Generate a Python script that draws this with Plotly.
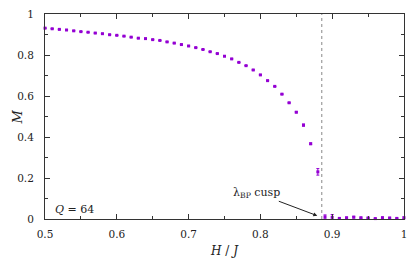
import plotly.graph_objects as go

# Data
H = [0.50, 0.51, 0.52, 0.53, 0.54, 0.55, 0.56, 0.57, 0.58, 0.59,
     0.60, 0.61, 0.62, 0.63, 0.64, 0.65, 0.66, 0.67, 0.68, 0.69,
     0.70, 0.71, 0.72, 0.73, 0.74, 0.75, 0.76, 0.77, 0.78, 0.79,
     0.80, 0.81, 0.82, 0.83, 0.84, 0.85, 0.86, 0.87, 0.88, 0.89,
     0.90, 0.91, 0.92, 0.93, 0.94, 0.95, 0.96, 0.97, 0.98, 0.99, 1.00]
M = [0.931, 0.928, 0.925, 0.922, 0.918, 0.914, 0.911, 0.907, 0.904, 0.899,
     0.896, 0.892, 0.887, 0.882, 0.880, 0.875, 0.871, 0.864, 0.858, 0.851,
     0.844, 0.836, 0.827, 0.816, 0.807, 0.794, 0.781, 0.764, 0.748, 0.727,
     0.703, 0.675, 0.647, 0.609, 0.567, 0.521, 0.458, 0.367, 0.230, 0.010,
     0.008, 0.003, 0.006, 0.009, 0.006, 0.005, 0.002, 0.006, 0.005, 0.003, 0.006]
M_err = [0.001] * 33 + [0.002, 0.002, 0.003, 0.005, 0.004, 0.016, 0.010,
                        0.014, 0.002, 0.003, 0.004, 0.003, 0.003, 0.002, 0.004, 0.003, 0.002, 0.004]
cusp_H = 0.8855
x_ticks = [0.5, 0.6, 0.7, 0.8, 0.9, 1.0]
x_tick_labels = ["0.5", "0.6", "0.7", "0.8", "0.9", "1"]
y_ticks = [0, 0.2, 0.4, 0.6, 0.8, 1.0]
y_tick_labels = ["0", "0.2", "0.4", "0.6", "0.8", "1"]

purple = "#9400D3"
FONT = "DejaVu Serif"

fig = go.Figure()
fig.add_trace(go.Scatter(
    x=H, y=M, mode="markers",
    marker=dict(symbol="square", size=3, color=purple),
    error_y=dict(type="data", array=M_err, color=purple, thickness=1, width=1.5),
    cliponaxis=False, showlegend=False,
))

fig.add_shape(type="line", x0=cusp_H, x1=cusp_H, y0=0, y1=1, xref="x", yref="y",
              line=dict(color="#888888", width=1, dash="dot"))

fig.add_annotation(x=0.8792, y=0.016, xref="x", yref="y",
                   text="λ<sub>BP</sub> cusp", showarrow=True,
                   ax=-61, ay=-23, arrowhead=2, arrowsize=0.8, arrowwidth=1,
                   arrowcolor="#222222", font=dict(family=FONT, size=11, color="#222"))
fig.add_annotation(x=0.5115, y=0.048, xref="x", yref="y", xanchor="left",
                   text="<i>Q</i> = 64", showarrow=False,
                   font=dict(family=FONT, size=11, color="#222"))
fig.add_annotation(x=-0.102, y=0.5, xref="paper", yref="paper", text="<i>M</i>",
                   textangle=-90, showarrow=False, font=dict(family=FONT, size=13, color="#222"))
fig.add_annotation(x=0.5, y=-0.11, xref="paper", yref="paper", text="<i>H</i> / <i>J</i>",
                   yanchor="top", showarrow=False, font=dict(family=FONT, size=12, color="#222"))

axis_common = dict(showgrid=False, zeroline=False, showline=True, linecolor="#333",
                   linewidth=1, mirror="ticks", ticks="inside", ticklen=5, tickwidth=1,
                   tickcolor="#333", tickfont=dict(family=FONT, size=10.5, color="#222"))
fig.update_xaxes(range=[0.5, 1.0], tickvals=x_ticks, ticktext=x_tick_labels,
                 minor=dict(ticks="inside", ticklen=3, tickcolor="#333", dtick=0.05, tick0=0.5),
                 ticklabelstandoff=5, **axis_common)
fig.update_yaxes(range=[0, 1.0], tickvals=y_ticks, ticktext=y_tick_labels,
                 minor=dict(ticks="inside", ticklen=3, tickcolor="#333", dtick=0.1, tick0=0),
                 ticklabelstandoff=8, **axis_common)
fig.update_layout(width=415, height=259, margin=dict(l=45, r=8, t=11, b=40),
                  paper_bgcolor="white", plot_bgcolor="white",
                  font=dict(family=FONT))
fig.write_html("out.html", post_script="document.body.style.margin='0px';",
               config={"displayModeBar": False})
